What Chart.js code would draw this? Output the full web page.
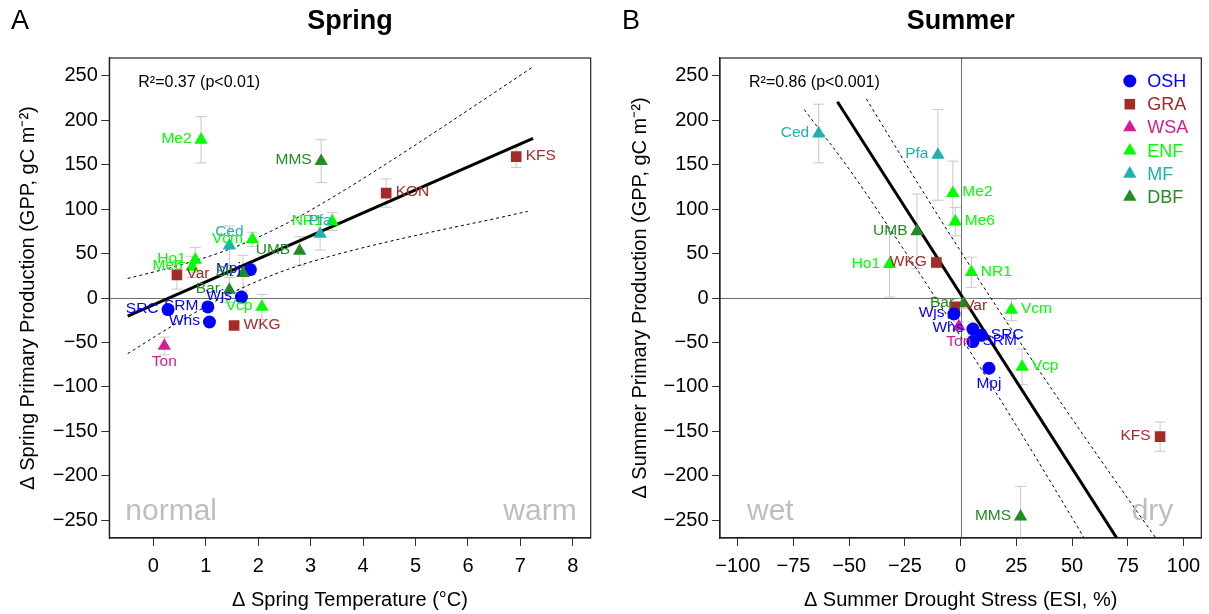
<!DOCTYPE html>
<html>
<head>
<meta charset="utf-8">
<script src="https://cdn.jsdelivr.net/npm/chart.js@4.4.1/dist/chart.umd.min.js"></script>
<style>
  body { margin: 0; background: #fff; width: 1209px; height: 614px; overflow: hidden; position: relative; }
  canvas { position: absolute; top: 0; }
  #spring-chart { left: 0; }
  #summer-chart { left: 605px; }
</style>
</head>
<body>
<canvas id="spring-chart" width="605" height="614" style="width:605px;height:614px"></canvas>
<canvas id="summer-chart" width="604" height="614" style="width:604px;height:614px"></canvas>
<script>
// groups of sites (vegetation type)
const groupNames = ['OSH', 'GRA', 'WSA', 'ENF', 'MF', 'DBF'];
const groupColors = ['#0000FF', '#A52A2A', '#D02090', '#00FF00', '#20B2AA', '#228B22'];
const groupShapes = ['circle', 'rect', 'triangle', 'triangle', 'triangle', 'triangle'];

// panel A - spring
const springSites = ['Me2','MMS','KFS','KON','NR1','Pfa','Ced','Vcm','UMB','Ho1','Me6','Var','Mpj','Slt','Bar','Wjs','Vcp','SRC','SRM','Whs','WKG','Ton'];
const springGroups = ['ENF','DBF','GRA','GRA','ENF','MF','MF','ENF','DBF','ENF','ENF','GRA','OSH','DBF','DBF','OSH','ENF','OSH','OSH','OSH','GRA','WSA'];
const springTemp = [0.91, 3.20, 6.92, 4.44, 3.41, 3.18, 1.45, 1.89, 2.79, 0.80, 0.74, 0.45, 1.85, 1.71, 1.45, 1.68, 2.07, 0.28, 1.04, 1.07, 1.54, 0.21];
const springGPP = [178, 154, 159, 118, 86, 72, 59, 66, 53, 43, 35, 26, 32, 28, 9, 1, -10, -13, -10, -27, -31, -54];
const springErr = [26, 24, 12, 16, 10, 18, 22, 8, 16, 14, 12, 16, 6, 20, 14, 5, 14, 5, 5, 4, 4, 10];
const springLabelPos = ['left','left','right','right','left','above','above','left','left','left','left','right','left','left','left','left','left','left','left','left','right','below'];
const springFitX = [-0.49, 7.24];
const springFitY = [-20.3, 179.5];
const springUpperX = [-0.49, 0.5, 1.5, 2.5, 3.5, 4.5, 5.5, 6.5, 7.24];
const springUpperY = [22.0, 36.9, 56.0, 82.7, 116.2, 153.2, 191.7, 230.9, 260.1];
const springLowerX = [-0.49, 0.5, 1.5, 2.5, 3.5, 4.5, 5.5, 6.5, 7.14];
const springLowerY = [-62.6, -26.5, 6.0, 30.9, 49.0, 63.6, 76.7, 89.1, 97.5];
const springXTicks = [0, 1, 2, 3, 4, 5, 6, 7, 8];

// panel B - summer
const summerSites = ['Ced','Pfa','Me2','Me6','UMB','Ho1','WKG','NR1','Bar','Var','Vcm','Wjs','Whs','Ton','SRC','SRM','Mpj','Vcp','KFS','MMS'];
const summerGroups = ['MF','MF','ENF','ENF','DBF','ENF','GRA','ENF','DBF','GRA','ENF','OSH','OSH','WSA','OSH','OSH','OSH','ENF','GRA','DBF'];
const summerESI = [-63.7, -10.2, -3.5, -2.4, -19.6, -31.9, -10.9, 4.8, 1.3, -2.7, 22.8, -3.0, 5.5, -0.8, 9.3, 5.5, 12.7, 27.6, 89.5, 26.9];
const summerGPP = [185, 161, 118, 86, 75, 38, 40, 29, -6, -10, -13.5, -18, -35, -32, -42, -49, -79, -77.5, -156, -246];
const summerErr = [33, 51, 36, 16, 42, 37, 6, 17, 6, 5, 12, 5, 8, 5, 6, 6, 6, 20, 16.5, 34];
const summerLabelPos = ['left','left','right','right','left','left','left','right','left','right','right','left','left','below','right','right','below','right','left','left'];
const summerFitX = [-55.3, 72];
const summerFitY = [220.8, -277.7];
const summerUpperX = [-42.3, -20, 0, 20, 40, 60, 80, 90];
const summerUpperY = [224, 132.2, 52.5, -24.6, -99.3, -172.0, -243.2, -278.4];
const summerLowerX = [-70.2, -50, -25, 0, 25, 50, 60];
const summerLowerY = [212, 144.8, 52.5, -43.5, -143.5, -247.2, -289.4];
const summerXTicks = [-100, -75, -50, -25, 0, 25, 50, 75, 100];

const gppTicks = [-250, -200, -150, -100, -50, 0, 50, 100, 150, 200, 250];

const fontFamily = "'Liberation Sans', Arial, Helvetica, sans-serif";
Chart.defaults.font.family = fontFamily;
Chart.defaults.color = '#000';

function fmtTick(v) {
  return v < 0 ? '\u2212' + Math.abs(v) : String(v);
}
function toXY(xs, ys) {
  return xs.map((x, i) => ({ x: x, y: ys[i] }));
}
function groupProp(groups, arr) {
  return groups.map(g => arr[groupNames.indexOf(g)]);
}

// marker for the legend, same shapes as chart.js draws
function drawMarker(ctx, shape, x, y) {
  ctx.beginPath();
  if (shape === 'circle') {
    ctx.arc(x, y, 6.5, 0, Math.PI * 2);
  } else if (shape === 'rect') {
    ctx.rect(x - 5.3, y - 5.3, 10.6, 10.6);
  } else {
    const r = 7.7;
    ctx.moveTo(x, y - r);
    ctx.lineTo(x + r * Math.sin(2 * Math.PI / 3), y + r / 2);
    ctx.lineTo(x - r * Math.sin(2 * Math.PI / 3), y + r / 2);
    ctx.closePath();
  }
  ctx.fill();
}

const panelInfo = {
  'spring-chart': {
    sites: springSites, groups: springGroups, xs: springTemp, ys: springGPP, errs: springErr, pos: springLabelPos,
    letter: 'A', letterX: 11, title: 'Spring', r2: 'R\u00b2=0.37 (p<0.01)',
    leftWord: 'normal', leftWordDx: 16, rightWord: 'warm', rightWordDx: 14, zeroX: false, legend: false
  },
  'summer-chart': {
    sites: summerSites, groups: summerGroups, xs: summerESI, ys: summerGPP, errs: summerErr, pos: summerLabelPos,
    letter: 'B', letterX: 17, title: 'Summer', r2: 'R\u00b2=0.86 (p<0.001)',
    leftWord: 'wet', leftWordDx: 27, rightWord: 'dry', rightWordDx: 28, zeroX: true, legend: true
  }
};

const siteMarks = {
  id: 'siteMarks',
  beforeDatasetsDraw(chart) {
    const p = panelInfo[chart.canvas.id];
    const { ctx, chartArea: { left, right, top, bottom }, scales: { x, y } } = chart;
    ctx.save();
    ctx.beginPath();
    ctx.rect(left, top, right - left, bottom - top);
    ctx.clip();
    // zero lines
    ctx.strokeStyle = '#6e6e6e';
    ctx.lineWidth = 1;
    ctx.beginPath();
    const y0 = Math.round(y.getPixelForValue(0)) + 0.5;
    ctx.moveTo(left, y0);
    ctx.lineTo(right, y0);
    if (p.zeroX) {
      const x0 = Math.round(x.getPixelForValue(0)) + 0.5;
      ctx.moveTo(x0, top);
      ctx.lineTo(x0, bottom);
    }
    ctx.stroke();
    // error bars
    ctx.strokeStyle = '#c8c8c8';
    ctx.beginPath();
    for (let i = 0; i < p.xs.length; i++) {
      const px = x.getPixelForValue(p.xs[i]);
      const hi = y.getPixelForValue(p.ys[i] + p.errs[i]);
      const lo = y.getPixelForValue(p.ys[i] - p.errs[i]);
      ctx.moveTo(px, hi); ctx.lineTo(px, lo);
      ctx.moveTo(px - 5.5, hi); ctx.lineTo(px + 5.5, hi);
      ctx.moveTo(px - 5.5, lo); ctx.lineTo(px + 5.5, lo);
    }
    ctx.stroke();
    ctx.restore();
  },
  afterDatasetsDraw(chart) {
    const p = panelInfo[chart.canvas.id];
    const { ctx } = chart;
    const pts = chart.getDatasetMeta(0).data;
    ctx.save();
    ctx.font = '15.5px ' + fontFamily;
    ctx.textBaseline = 'middle';
    for (let i = 0; i < p.sites.length; i++) {
      const px = pts[i].x, py = pts[i].y;
      ctx.fillStyle = groupColors[groupNames.indexOf(p.groups[i])];
      if (p.pos[i] === 'left') {
        ctx.textAlign = 'right';
        ctx.fillText(p.sites[i], px - 9.5, py - 1);
      } else if (p.pos[i] === 'right') {
        ctx.textAlign = 'left';
        ctx.fillText(p.sites[i], px + 9.5, py - 1);
      } else if (p.pos[i] === 'above') {
        ctx.textAlign = 'center';
        ctx.fillText(p.sites[i], px, py - 13.5);
      } else {
        ctx.textAlign = 'center';
        ctx.fillText(p.sites[i], px, py + 15.5);
      }
    }
    ctx.restore();
  },
  afterDraw(chart) {
    const p = panelInfo[chart.canvas.id];
    const { ctx, chartArea: { left, right, top, bottom } } = chart;
    ctx.save();
    // box round the plot
    ctx.strokeStyle = '#222';
    ctx.lineWidth = 1.2;
    ctx.strokeRect(left, top, right - left, bottom - top);
    // panel letter and title
    ctx.fillStyle = '#000';
    ctx.textBaseline = 'middle';
    ctx.textAlign = 'left';
    ctx.font = '27px ' + fontFamily;
    ctx.fillText(p.letter, p.letterX, 22);
    ctx.textAlign = 'center';
    ctx.font = 'bold 27px ' + fontFamily;
    ctx.fillText(p.title, (left + right) / 2, 22);
    // r squared
    ctx.textAlign = 'left';
    ctx.textBaseline = 'alphabetic';
    ctx.font = '16px ' + fontFamily;
    ctx.fillText(p.r2, left + 29, top + 29);
    // grey words in the bottom corners
    ctx.fillStyle = '#bebebe';
    ctx.font = '30px ' + fontFamily;
    ctx.fillText(p.leftWord, left + p.leftWordDx, bottom - 18);
    ctx.textAlign = 'right';
    ctx.fillText(p.rightWord, right - p.rightWordDx, bottom - 18);
    // legend
    if (p.legend) {
      ctx.font = '18px ' + fontFamily;
      ctx.textAlign = 'left';
      ctx.textBaseline = 'middle';
      for (let i = 0; i < groupNames.length; i++) {
        const yy = top + 23 + i * 23.2;
        ctx.fillStyle = groupColors[i];
        drawMarker(ctx, groupShapes[i], right - 71.5, yy);
        ctx.fillText(groupNames[i], right - 54, yy + 1);
      }
    }
    ctx.restore();
  }
};

function makePanel(canvasId, cfg) {
  const ctx = document.getElementById(canvasId).getContext('2d');
  return new Chart(ctx, {
    type: 'scatter',
    data: {
      datasets: [
        {
          data: toXY(cfg.xs, cfg.ys),
          pointStyle: groupProp(cfg.groups, groupShapes),
          backgroundColor: groupProp(cfg.groups, groupColors),
          borderColor: groupProp(cfg.groups, groupColors),
          pointRadius: cfg.groups.map(g => g === 'OSH' ? 6.5 : (g === 'GRA' ? 7.5 : 7.7)),
          pointBorderWidth: 0
        },
        {
          data: toXY(cfg.fitX, cfg.fitY),
          showLine: true, pointRadius: 0, borderColor: '#000', borderWidth: 3
        },
        {
          data: toXY(cfg.upX, cfg.upY),
          showLine: true, pointRadius: 0, borderColor: '#000', borderWidth: 1,
          borderDash: [3, 3], cubicInterpolationMode: 'monotone'
        },
        {
          data: toXY(cfg.loX, cfg.loY),
          showLine: true, pointRadius: 0, borderColor: '#000', borderWidth: 1,
          borderDash: [3, 3], cubicInterpolationMode: 'monotone'
        }
      ]
    },
    options: {
      responsive: false,
      animation: false,
      events: [],
      layout: { padding: { top: 58, right: cfg.padRight, left: 0, bottom: 0 } },
      scales: {
        x: {
          type: 'linear',
          min: cfg.xMin,
          max: cfg.xMax,
          afterBuildTicks: (scale) => { scale.ticks = cfg.xTicks.map(v => ({ value: v })); },
          afterFit: (scale) => { scale.height = 76; },
          grid: { drawOnChartArea: false, drawTicks: true, tickLength: 8, color: '#333' },
          border: { display: true, color: '#222', width: 1.2 },
          ticks: { font: { size: 20 }, color: '#000', padding: 8, maxRotation: 0, autoSkip: false, callback: fmtTick },
          title: { display: true, text: cfg.xTitle, font: { size: 20 }, color: '#000', padding: { top: 0, bottom: 2 } }
        },
        y: {
          type: 'linear',
          min: -270,
          max: 270,
          afterBuildTicks: (scale) => { scale.ticks = gppTicks.map(v => ({ value: v })); },
          afterFit: (scale) => { scale.width = cfg.yWidth; },
          grid: { drawOnChartArea: false, drawTicks: true, tickLength: 8, color: '#333' },
          border: { display: true, color: '#222', width: 1.2 },
          ticks: { font: { size: 20 }, color: '#000', padding: 3.5, autoSkip: false, callback: fmtTick },
          title: { display: true, text: cfg.yTitle, font: { size: 20 }, color: '#000', padding: { top: cfg.yTitlePad, bottom: 0 } }
        }
      },
      plugins: {
        legend: { display: false },
        tooltip: { enabled: false },
        title: { display: false }
      }
    },
    plugins: [siteMarks]
  });
}

let springChart = makePanel('spring-chart', {
  xs: springTemp, ys: springGPP, groups: springGroups,
  fitX: springFitX, fitY: springFitY, upX: springUpperX, upY: springUpperY, loX: springLowerX, loY: springLowerY,
  xMin: -0.84, xMax: 8.34, xTicks: springXTicks, padRight: 14.3, yWidth: 109.3, yTitlePad: 16,
  xTitle: '\u0394 Spring Temperature (\u00b0C)',
  yTitle: '\u0394 Spring Primary Production (GPP, gC m\u207b\u00b2)'
});

let summerChart = makePanel('summer-chart', {
  xs: summerESI, ys: summerGPP, groups: summerGroups,
  fitX: summerFitX, fitY: summerFitY, upX: summerUpperX, upY: summerUpperY, loX: summerLowerX, loY: summerLowerY,
  xMin: -108, xMax: 108, xTicks: summerXTicks, padRight: 7.5, yWidth: 115, yTitlePad: 23,
  xTitle: '\u0394 Summer Drought Stress (ESI, %)',
  yTitle: '\u0394 Summer Primary Production (GPP, gC m\u207b\u00b2)'
});
</script>
</body>
</html>
